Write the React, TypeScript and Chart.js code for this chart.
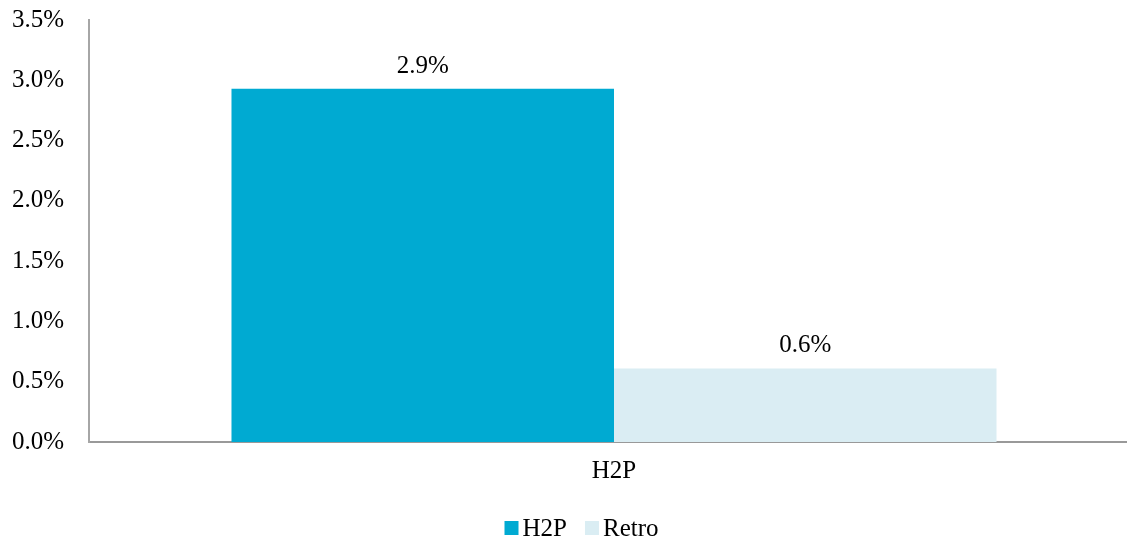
import React, { useEffect, useRef } from "react";
import { Chart, registerables } from "chart.js";

Chart.register(...registerables);

const categories = ["H2P"];
const seriesNames = ["H2P", "Retro"];
const h2pValues = [2.93];
const retroValues = [0.61];
const seriesColors = ["#00AAD2", "#DAEDF3"];
const yMin = 0;
const yMax = 3.5;
const yStep = 0.5;

const FONT = "'Liberation Serif', 'Times New Roman', serif";
const FONT_SIZE = 25;

const valueLabelPlugin = {
  id: "valueLabels",
  afterDatasetsDraw(chart: any) {
    const ctx = chart.ctx;
    ctx.save();
    ctx.font = `${FONT_SIZE}px ${FONT}`;
    ctx.fillStyle = "#000";
    ctx.textAlign = "center";
    ctx.textBaseline = "alphabetic";
    chart.data.datasets.forEach((ds: any, i: number) => {
      const meta = chart.getDatasetMeta(i);
      meta.data.forEach((bar: any, j: number) => {
        const v = ds.data[j];
        ctx.fillText(v.toFixed(1) + "%", bar.x, bar.y - 16);
      });
    });
    ctx.restore();
  },
};

const customLegendPlugin = {
  id: "customLegend",
  afterDraw(chart: any) {
    const ctx = chart.ctx;
    ctx.save();
    ctx.font = `${FONT_SIZE}px ${FONT}`;
    ctx.textBaseline = "middle";
    ctx.textAlign = "left";
    const box = 14;
    const gap = 4;
    const itemGap = 18;
    const widths = chart.data.datasets.map(
      (ds: any) => box + gap + ctx.measureText(ds.label).width
    );
    const total = widths.reduce((a: number, b: number) => a + b, 0) + itemGap * (widths.length - 1);
    let x = chart.width / 2 + 12 - total / 2;
    const y = chart.height - 12;
    chart.data.datasets.forEach((ds: any, i: number) => {
      ctx.fillStyle = ds.backgroundColor;
      ctx.fillRect(x, y - box / 2, box, box);
      ctx.fillStyle = "#000";
      ctx.fillText(ds.label, x + box + gap, y + 1);
      x += widths[i] + itemGap;
    });
    ctx.restore();
  },
};

export default function App() {
  const canvasRef = useRef<HTMLCanvasElement | null>(null);

  useEffect(() => {
    const canvas = canvasRef.current;
    if (!canvas) return;
    const chart = new Chart(canvas, {
      type: "bar",
      data: {
        labels: categories,
        datasets: [
          { label: seriesNames[0], data: h2pValues, backgroundColor: seriesColors[0], borderWidth: 0 },
          { label: seriesNames[1], data: retroValues, backgroundColor: seriesColors[1], borderWidth: 0 },
        ],
      },
      options: {
        responsive: false,
        animation: false,
        devicePixelRatio: 1,
        layout: { padding: { top: 0, left: 12, right: 0, bottom: 54 } },
        plugins: {
          legend: { display: false },
          tooltip: { enabled: false },
        },
        datasets: {
          bar: { categoryPercentage: 0.7286, barPercentage: 1.0 },
        },
        scales: {
          x: {
            grid: { display: false, drawTicks: false },
            border: { display: true, color: "#999999", width: 2 },
            ticks: {
              padding: 14,
              color: "#000",
              font: { family: FONT, size: FONT_SIZE },
            },
            afterFit: (scale: any) => {
              scale.height = 44;
            },
          },
          y: {
            min: yMin,
            max: yMax,
            grid: { display: false, drawTicks: false },
            border: { display: true, color: "#A6A6A6", width: 2 },
            ticks: {
              stepSize: yStep,
              padding: 25,
              color: "#000",
              font: { family: FONT, size: FONT_SIZE },
              callback: (v: any) => Number(v).toFixed(1) + "%",
            },
            afterFit: (scale: any) => {
              scale.width = 77;
              scale.paddingTop = 20;
              scale.paddingBottom = 0;
            },
          },
        },
      },
      plugins: [valueLabelPlugin, customLegendPlugin],
    });
    return () => chart.destroy();
  }, []);

  return (
    <div
      style={{
        position: "fixed",
        left: 0,
        top: 0,
        width: 1127,
        height: 540,
        overflow: "hidden",
        background: "#fff",
      }}
    >
      <canvas ref={canvasRef} width={1139} height={540} style={{ display: "block" }} />
    </div>
  );
}
